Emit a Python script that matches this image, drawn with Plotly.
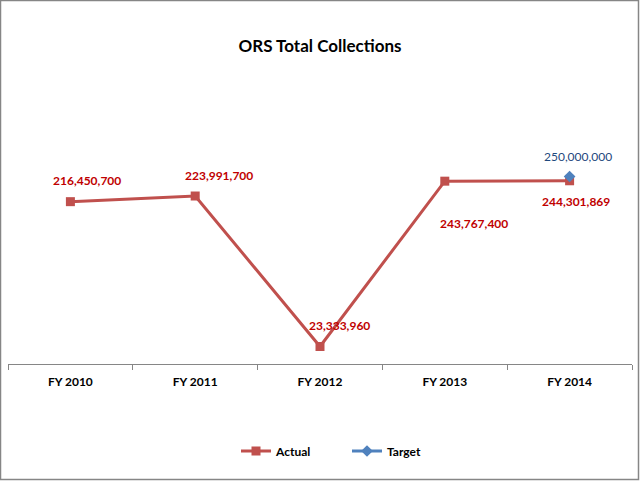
import plotly.graph_objects as go

categories = ["FY 2010", "FY 2011", "FY 2012", "FY 2013", "FY 2014"]
actual = [216450700, 223991700, 23333960, 243767400, 244301869]
target = [None, None, None, None, 250000000]

# label offsets (px) per point: (xshift, yshift)
actual_label_offsets = [(17, 21), (24, 21), (19, 21), (29, -42), (6, -21)]
target_label_offsets = [(8, 20)]

RED = "#C0504D"
BLUE = "#4F81BD"
LABEL_RED = "#C00000"
LABEL_BLUE = "#1F497D"
FONT = "Lato, 'Open Sans', Arial, sans-serif"

fig = go.Figure()
fig.add_trace(go.Scatter(
    x=categories, y=actual, name="Actual", mode="lines+markers",
    line=dict(color=RED, width=3),
    marker=dict(symbol="square", size=9, color=RED),
))
fig.add_trace(go.Scatter(
    x=categories, y=target, name="Target", mode="lines+markers",
    line=dict(color=BLUE, width=3),
    marker=dict(symbol="diamond", size=9, color=BLUE),
))

annotations = []
for c, v, (dx, dy) in zip(categories, actual, actual_label_offsets):
    annotations.append(dict(
        x=c, y=v, xref="x", yref="y", text=f"{v:,}", showarrow=False,
        xshift=dx, yshift=dy,
        font=dict(family=FONT, size=12, color=LABEL_RED, weight="bold"),
    ))
tv = [(c, v) for c, v in zip(categories, target) if v is not None]
for (c, v), (dx, dy) in zip(tv, target_label_offsets):
    annotations.append(dict(
        x=c, y=v, xref="x", yref="y", text=f"{v:,}", showarrow=False,
        xshift=dx, yshift=dy,
        font=dict(family=FONT, size=12, color=LABEL_BLUE),
    ))

L, R, T, B = 8, 8, 139, 117
W, H = 640, 481
pw, ph = W - L - R, H - T - B

fig.update_layout(
    width=W, height=H,
    margin=dict(l=L, r=R, t=T, b=B, pad=0),
    paper_bgcolor="white", plot_bgcolor="white",
    title=dict(text="<b>ORS Total Collections</b>", x=0.5, xanchor="center",
               y=1 - 46 / H, yanchor="middle",
               font=dict(family=FONT, size=17, color="#000000")),
    showlegend=True,
    legend=dict(orientation="h", x=(236 - L) / pw, xanchor="left", y=-(451 - (T + ph)) / ph,
                yanchor="middle", font=dict(family=FONT, size=12, color="#000000", weight="bold"),
                itemwidth=30, tracegroupgap=0, entrywidth=66),
    annotations=annotations,
    xaxis=dict(
        type="category", range=[-0.5, 4.5], showgrid=False,
        showline=True, linecolor="#868686", linewidth=1,
        ticks="outside", tickson="boundaries", ticklen=5, tickcolor="#868686",
        ticklabelstandoff=7,
        tickfont=dict(family=FONT, size=12, color="#000000", weight="bold"),
        fixedrange=True,
    ),
    yaxis=dict(range=[0, 300000000], visible=False, fixedrange=True),
    shapes=[dict(
        type="rect", xref="paper", yref="paper",
        x0=-(L - 0.5) / pw, x1=1 + (R - 1.5) / pw,
        y0=-(B - 1.5) / ph, y1=1 + (T - 0.5) / ph,
        line=dict(color="#868686", width=1.5), fillcolor="rgba(0,0,0,0)",
    )],
)

fig.write_html("out.html", config={"displayModeBar": False},
               post_script="document.body.style.margin='0';document.body.style.overflow='hidden';")
